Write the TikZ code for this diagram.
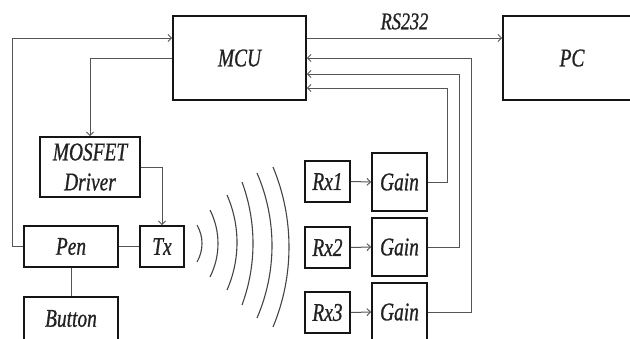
\documentclass[tikz,border=0pt]{standalone}
\usepackage{fontspec}
\setmainfont{Liberation Serif}[FakeStretch=0.76,FakeBold=0.8]
\usetikzlibrary{arrows.meta,calc}
\definecolor{boxline}{HTML}{151515}
\definecolor{wire}{HTML}{555555}
\definecolor{txt}{HTML}{222222}
\tikzset{
  blk/.style={draw=boxline, line width=1.8pt, fill=white, inner sep=0pt, align=center,
    text=txt, font=\fontsize{25.5}{30}\selectfont\itshape},
  wireline/.style={draw=wire, line width=1pt},
  arr/.style={wireline, -{Straight Barb[length=3.5pt,width=7pt,line width=0.9pt]}},
  wave/.style={draw=wire!80!black, line width=1.1pt},
  lbl/.style={text=txt, font=\fontsize{24}{28}\selectfont\itshape, inner sep=0pt}
}
\begin{document}
\begin{tikzpicture}[x=1pt,y=-1pt]
\useasboundingbox[fill=white] (0,0) rectangle (630,338);
% boxes
\node[blk, minimum width=133pt, minimum height=84pt] (mcu) at (239.5,58) {MCU};
\node[blk, minimum width=138pt, minimum height=84pt] (pc) at (572,58) {PC};
\node[blk, minimum width=100pt, minimum height=60pt] (mos) at (90,167) {MOSFET\\Driver};
\node[blk, minimum width=94pt, minimum height=41pt] (pen) at (71,246.5) {Pen};
\node[blk, minimum width=44pt, minimum height=41pt] (tx) at (162,246.5) {Tx};
\node[blk, minimum width=94pt, minimum height=43pt] (btn) at (71,318.5) {Button};
\node[blk, minimum width=45pt, minimum height=41pt] (rx1) at (327.5,181.5) {Rx1};
\node[blk, minimum width=45pt, minimum height=41pt] (rx2) at (327.5,247.5) {Rx2};
\node[blk, minimum width=45pt, minimum height=41pt] (rx3) at (327.5,312.5) {Rx3};
\node[blk, minimum width=55pt, minimum height=58pt] (g1) at (399.5,182) {Gain};
\node[blk, minimum width=55pt, minimum height=58pt] (g2) at (399.5,247) {Gain};
\node[blk, minimum width=55pt, minimum height=58pt] (g3) at (399.5,312) {Gain};
% connectors
\draw[arr] (pen.west) -- ++(-11,0) |- ([yshift=20pt]mcu.west);
\draw[arr] (mcu.west) -| (mos.north);
\draw[arr] (mos.east) -| (tx.north);
\draw[wireline] (pen.east) -- (tx.west);
\draw[wireline] (pen.south) -- (btn.north);
\draw[arr] ([yshift=20pt]mcu.east) -- node[lbl, above=8pt] {RS232} ([yshift=20pt]pc.west);
\draw[arr] (rx1.east) -- (g1.west);
\draw[arr] (rx2.east) -- (g2.west);
\draw[arr] (rx3.east) -- (g3.west);
\draw[arr] (g1.east) -- ++(20,0) |- ([yshift=-30pt]mcu.east);
\draw[arr] (g2.east) -- ++(32,0) |- ([yshift=-16pt]mcu.east);
\draw[arr] (g3.east) -- ++(44,0) |- (mcu.east);
% waves
\foreach \a/\b/\t/\bo in {197/202/225/262, 210/218/210/277, 227/237/195/290, 242/253/182/305, 257/272/173/318, 273/289/167/327}{
  \pgfmathsetmacro\hh{(\bo-\t)/2}
  \pgfmathsetmacro\ss{\b-\a}
  \pgfmathsetmacro\RR{(\hh*\hh+\ss*\ss)/(2*\ss)}
  \pgfmathsetmacro\al{asin(\hh/\RR)}
  \draw[wave] (\a,\t) arc[start angle=-\al, end angle=\al, radius=\RR];
}
\end{tikzpicture}
\end{document}
